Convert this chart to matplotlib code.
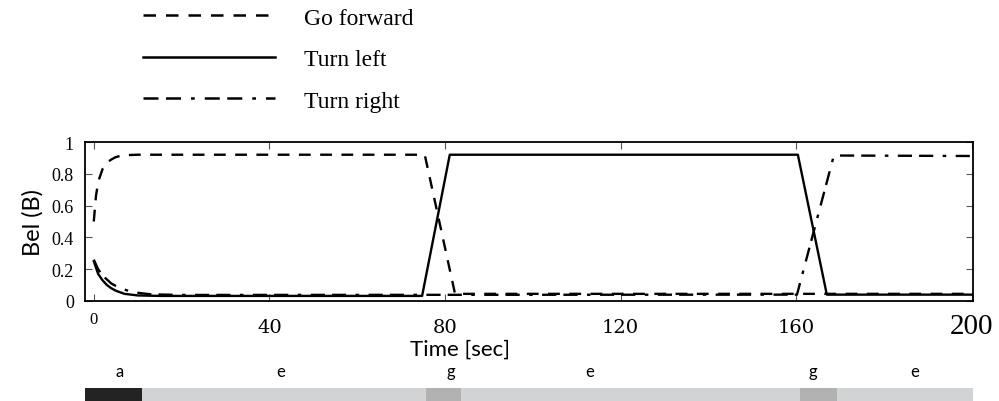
import matplotlib.pyplot as plt
from matplotlib.lines import Line2D

# belief traces (time in seconds, value in [0, 1])
t_fwd = [0, 0.5, 1, 2, 3, 4, 5, 6, 8, 10, 15, 75.4, 82.3, 120, 200]
b_fwd = [0.50, 0.66, 0.75, 0.83, 0.87, 0.89, 0.905, 0.912, 0.918, 0.92, 0.92, 0.92, 0.045, 0.045, 0.045]

t_left = [0, 1, 2, 3, 4, 5, 7, 10, 15, 74.8, 81.1, 160.4, 167, 200]
b_left = [0.25, 0.17, 0.13, 0.10, 0.08, 0.065, 0.045, 0.035, 0.032, 0.032, 0.92, 0.92, 0.04, 0.04]

t_right = [0, 1, 2, 4, 6, 9, 13, 20, 160.2, 168.6, 200]
b_right = [0.26, 0.20, 0.16, 0.11, 0.08, 0.055, 0.042, 0.038, 0.04, 0.915, 0.912]

labels = ["Go forward", "Turn left", "Turn right"]

# action segments underneath
seg_start = [-2, 11, 75.7, 83.6, 161, 169.3]
seg_end = [11, 75.7, 83.6, 161, 169.3, 200.3]
seg_name = ["a", "e", "g", "e", "g", "e"]
seg_text_x = [6, 42.5, 81.4, 113, 163.8, 187]
seg_color = {"a": "#232323", "e": "#d2d3d4", "g": "#b1b1b1"}

xticks = [0, 40, 80, 120, 160, 200]
yticks = [0, 0.2, 0.4, 0.6, 0.8, 1]
ytick_labels = ["0", "0.2", "0.4", "0.6", "0.8", "1"]

serif = ["Liberation Serif", "DejaVu Serif"]
wide_serif = ["DejaVu Serif"]
sans = ["Lato", "DejaVu Sans"]

fig = plt.figure(figsize=(9.99, 4.02), dpi=100)
ax = fig.add_axes([85 / 999, 1 - 302 / 402, (973 - 85) / 999, (302 - 143) / 402])

fwd_style = (0, (5, 4))
right_style = (0, (6, 3, 6, 4, 1.5, 4))

l1, = ax.plot(t_fwd, b_fwd, color="black", lw=1.7, linestyle=fwd_style)
l2, = ax.plot(t_left, b_left, color="black", lw=1.7, linestyle="-")
l3, = ax.plot(t_right, b_right, color="black", lw=1.7, linestyle=right_style)

ax.set_xlim(-2, 200.3)
ax.set_ylim(0, 1)
ax.set_xticks(xticks)
ax.set_xticklabels([str(x) for x in xticks])
# mixed tick label fonts along x
xl = ax.get_xticklabels()
xl[0].set_fontproperties({"family": serif, "size": 12})
for lab in xl[1:-1]:
    lab.set_fontproperties({"family": wide_serif, "size": 14})
xl[-1].set_fontproperties({"family": serif, "size": 21})
xl[-1].set_y(0.03)
xl[0].set_y(0.045)
ax.set_yticks(yticks)
ax.set_yticklabels(ytick_labels, family=serif, fontsize=13)
ax.tick_params(axis="both", direction="in", length=5, width=0.8,
               top=True, right=True, color="#555555")
ax.tick_params(axis="x", pad=12)
ax.tick_params(axis="y", pad=8)
for sp in ax.spines.values():
    sp.set_linewidth(1.3)

ax.set_ylabel("Bel (B)", family=sans, fontsize=17)
ax.yaxis.set_label_coords(-0.047, 0.5)
ax.set_xlabel("Time [sec]", family=sans, fontsize=16)
ax.xaxis.set_label_coords(0.422, -0.235)

# legend above the axes
handles = [Line2D([], [], color="black", lw=1.8, linestyle=fwd_style),
           Line2D([], [], color="black", lw=1.8, linestyle="-"),
           Line2D([], [], color="black", lw=1.8, linestyle=right_style)]
fig.legend(handles, labels, loc="upper left", bbox_to_anchor=(143 / 999, 1 - 8 / 402),
           frameon=False, prop={"family": serif, "size": 17},
           handlelength=5.6, handletextpad=1.2, labelspacing=0.85,
           borderpad=0, borderaxespad=0)

# action bar
bx = fig.add_axes([85 / 999, 0, (973 - 85) / 999, 13 / 402])
for s, e, n in zip(seg_start, seg_end, seg_name):
    bx.barh(0, e - s, left=s, height=1, color=seg_color[n], edgecolor="none")
bx.set_xlim(-2, 200.3)
bx.set_ylim(-0.5, 0.5)
bx.axis("off")
for x, n in zip(seg_text_x, seg_name):
    fig.text(bx.transData.transform((x, 0))[0] / fig.dpi / fig.get_figwidth(),
             1 - 372 / 402, n, family=sans, fontsize=12, ha="center", va="center")

fig.savefig("out.png", dpi=100)
